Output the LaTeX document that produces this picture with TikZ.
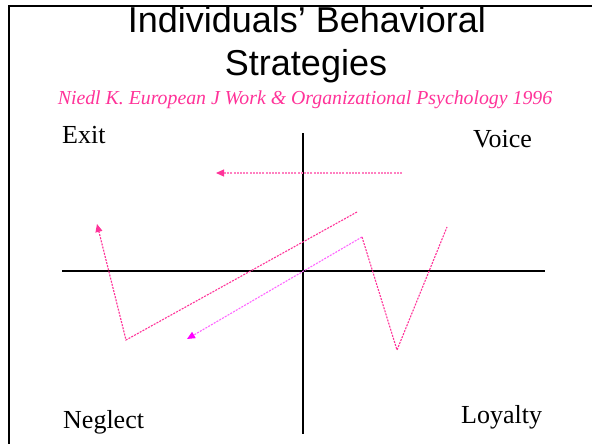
\documentclass[tikz,border=0pt]{standalone}
\usepackage{fontspec}
\setmainfont{Liberation Serif}
\newfontfamily\titlefont{Liberation Sans}
\usetikzlibrary{arrows.meta}
\definecolor{hotpink}{HTML}{FF3399}
\definecolor{softpink}{HTML}{FF80C0}
\definecolor{magentatip}{HTML}{FF00FF}
\definecolor{softmagenta}{HTML}{FF66FF}
\begin{document}
\begin{tikzpicture}[x=1pt,y=-1pt,
  axis/.style={line width=1.2pt,black},
  dotline/.style={line width=1.1pt,dash pattern=on 2pt off 1.2pt},
  quadlabel/.style={font=\fontsize{26}{30}\selectfont,anchor=base west,inner sep=0pt},
  titleline/.style={font=\titlefont\fontsize{36}{40}\selectfont,anchor=base,inner sep=0pt}]
\useasboundingbox (0,0) rectangle (592,444);
\fill[white] (0,0) rectangle (592,444);
% slide frame
\draw[line width=2.5pt] (9,446) -- (9,6) -- (594,6);
% headings
\node[titleline] (t1) at (307,33) {Individuals’ Behavioral};
\node[titleline] (t2) at (306,76) {Strategies};
\node[font=\itshape\fontsize{19.8}{23}\selectfont,text=hotpink,anchor=base,inner sep=0pt] (src) at (305,105)
  {Niedl K. European J Work \& Organizational Psychology 1996};
% quadrant labels
\node[quadlabel] (exit) at (62,143) {Exit};
\node[quadlabel] (voice) at (473,147) {Voice};
\node[quadlabel] (neglect) at (63,428) {Neglect};
\node[quadlabel] (loyalty) at (461,423) {Loyalty};
% axes
\coordinate (xl) at (62,271);
\coordinate (xr) at (545,271);
\coordinate (yt) at (303,133);
\coordinate (yb) at (303,434);
\draw[axis] (xl) -- (xr);
\draw[axis] (yt) -- (yb);
% path points
\coordinate (v0) at (402,173);
\coordinate (v1) at (216,173);
\coordinate (n0) at (357,212);
\coordinate (n1) at (126,340);
\coordinate (n2) at (97,224);
\coordinate (m0) at (362,237);
\coordinate (m1) at (187,339);
\coordinate (w1) at (397,350);
\coordinate (w2) at (447,227);
% voice to exit
\draw[dotline,softpink,-{Triangle[length=8pt,width=7pt,color=hotpink]}] (v0) -- (v1);
% loyalty through neglect to exit
\draw[dotline,hotpink,-{Triangle[length=8pt,width=7pt]}] (n0) -- (n1) -- (n2);
% loyalty down to neglect
\draw[dotline,softmagenta,-{Triangle[length=8pt,width=7pt,color=magentatip]}] (m0) -- (m1);
% swing between voice and loyalty
\draw[dotline,hotpink] (m0) -- (w1) -- (w2);
\end{tikzpicture}
\end{document}
